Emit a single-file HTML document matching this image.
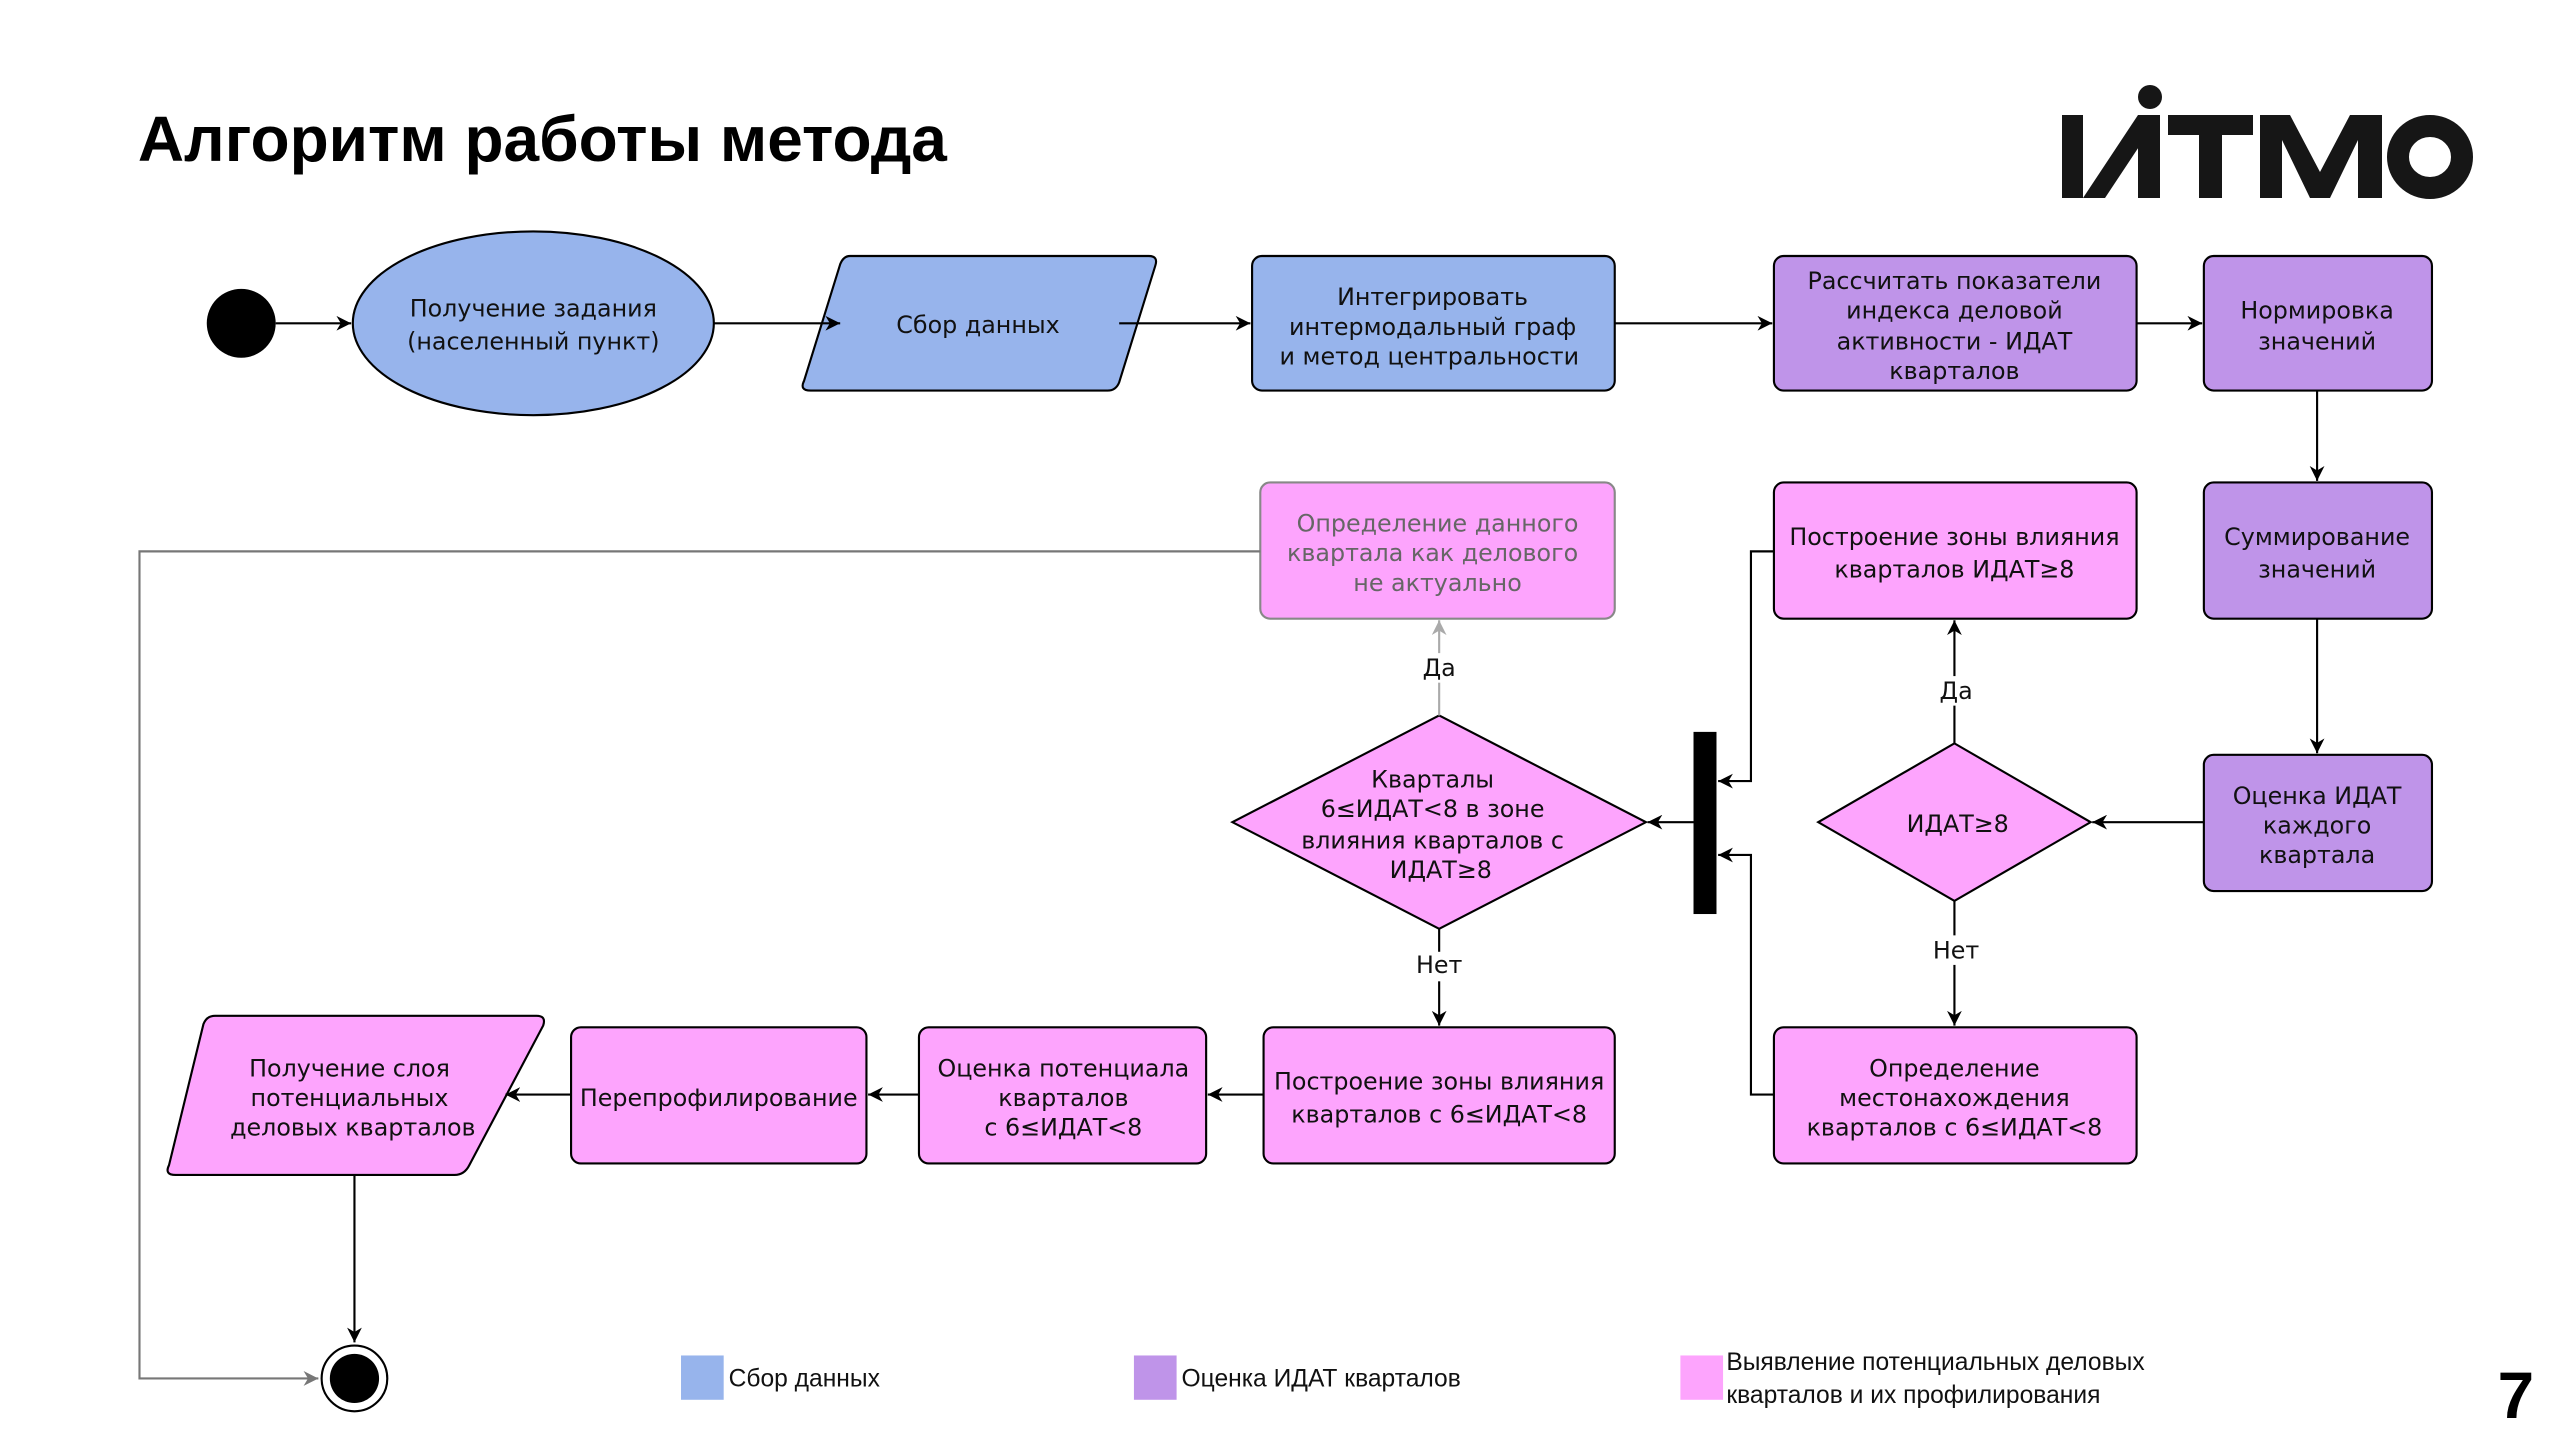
<!DOCTYPE html>
<html><head><meta charset="utf-8"><style>
html,body{margin:0;padding:0;background:#fff;}
svg{display:block;}
.t{font-family:"DejaVu Sans",sans-serif;font-size:14.5px;fill:#111;text-anchor:middle;}
.g{fill:#666;}
.l{font-family:"Liberation Sans",sans-serif;font-size:15px;fill:#111;}
.ln{stroke:#000;stroke-width:1.3;fill:none;}
.bl{fill:#97b4ec;stroke:#000;stroke-width:1.3;}
.pu{fill:#bf94e9;stroke:#000;stroke-width:1.3;}
.pk{fill:#fda4fd;stroke:#000;stroke-width:1.3;}
</style></head><body>
<svg width="2560" height="1440" viewBox="0 0 2560 1440" xmlns="http://www.w3.org/2000/svg">
<defs>
<marker id="a" viewBox="0 0 10 10" refX="10" refY="5" markerWidth="9" markerHeight="9" orient="auto" markerUnits="userSpaceOnUse"><path d="M0,0 L10,5 L0,10 L3,5 z" fill="#000"/></marker>
<marker id="ag" viewBox="0 0 10 10" refX="10" refY="5" markerWidth="9" markerHeight="9" orient="auto" markerUnits="userSpaceOnUse"><path d="M0,0 L10,5 L0,10 L3,5 z" fill="#aaa"/></marker>
<marker id="ag2" viewBox="0 0 10 10" refX="10" refY="5" markerWidth="9" markerHeight="9" orient="auto" markerUnits="userSpaceOnUse"><path d="M0,0 L10,5 L0,10 L3,5 z" fill="#777"/></marker>
</defs>
<!-- logo -->
<g fill="#161616">
<rect x="2062" y="115" width="21" height="83"/>
<polygon points="2083,198 2105,198 2160,115 2138,115"/>
<rect x="2138" y="115" width="22" height="83"/>
<circle cx="2150" cy="97" r="12"/>
<rect x="2168" y="115" width="85" height="20"/>
<rect x="2199" y="115" width="23" height="83"/>
<polygon points="2260,115 2290,115 2320,172 2350,115 2382,115 2382,198 2358,198 2358,140 2330,198 2310,198 2282,140 2282,198 2260,198"/>
<ellipse cx="2430" cy="157" rx="32" ry="31" fill="none" stroke="#161616" stroke-width="22"/>
</g>
<g transform="scale(1.641)">
<text x="84" y="98" font-family="Liberation Sans,sans-serif" font-weight="bold" font-size="39" fill="#000">Алгоритм работы метода</text>
<text x="1522" y="864" font-family="Liberation Sans,sans-serif" font-weight="bold" font-size="40" fill="#000">7</text>

<!-- top row shapes -->
<circle cx="147" cy="197" r="21" fill="#000"/>
<ellipse class="bl" cx="325" cy="197" rx="110" ry="56"/>
<text class="t" x="325" y="193">Получение задания</text>
<text class="t" x="325" y="213">(населенный пункт)</text>
<path class="bl" d="M518,156 L700,156 Q706,156 704,162 L682,233 Q680,238 675,238 L494,238 Q487,238 490,232 L512,161 Q514,156 518,156 Z"/>
<text class="t" x="596" y="203">Сбор данных</text>
<rect class="bl" x="763" y="156" width="221" height="82" rx="6"/>
<text class="t" x="873" y="186">Интегрировать</text>
<text class="t" x="873" y="204">интермодальный граф</text>
<text class="t" x="871" y="222">и метод центральности</text>
<line class="ln" x1="168" y1="197" x2="214" y2="197" marker-end="url(#a)"/>
<line class="ln" x1="435" y1="197" x2="512" y2="197" marker-end="url(#a)"/>
<line class="ln" x1="682" y1="197" x2="762" y2="197" marker-end="url(#a)"/>
<line class="ln" x1="984" y1="197" x2="1080" y2="197" marker-end="url(#a)"/>
<rect class="pu" x="1081" y="156" width="221" height="82" rx="6"/>
<text class="t" x="1191" y="176">Рассчитать показатели</text>
<text class="t" x="1191" y="194">индекса деловой</text>
<text class="t" x="1191" y="213">активности - ИДАТ</text>
<text class="t" x="1191" y="231">кварталов</text>
<line class="ln" x1="1302" y1="197" x2="1342" y2="197" marker-end="url(#a)"/>
<rect class="pu" x="1343" y="156" width="139" height="82" rx="6"/>
<text class="t" x="1412" y="194">Нормировка</text>
<text class="t" x="1412" y="213">значений</text>
<line class="ln" x1="1412" y1="238" x2="1412" y2="293" marker-end="url(#a)"/>
<rect class="pu" x="1343" y="294" width="139" height="83" rx="6"/>
<text class="t" x="1412" y="332">Суммирование</text>
<text class="t" x="1412" y="352">значений</text>
<line class="ln" x1="1412" y1="377" x2="1412" y2="459" marker-end="url(#a)"/>
<rect class="pu" x="1343" y="460" width="139" height="83" rx="6"/>
<text class="t" x="1412" y="490">Оценка ИДАТ</text>
<text class="t" x="1412" y="508">каждого</text>
<text class="t" x="1412" y="526">квартала</text>
<line class="ln" x1="1343" y1="501" x2="1275" y2="501" marker-end="url(#a)"/>

<!-- diamond 1 -->
<polygon class="pk" points="1191,453 1274,501 1191,549 1108,501"/>
<text class="t" x="1193" y="507">ИДАТ≥8</text>
<line class="ln" x1="1191" y1="453" x2="1191" y2="378" marker-end="url(#a)"/>
<rect x="1178" y="412" width="28" height="18" fill="#fff"/>
<text class="t" x="1192" y="426">Да</text>
<line class="ln" x1="1191" y1="549" x2="1191" y2="625" marker-end="url(#a)"/>
<rect x="1175" y="570" width="34" height="18" fill="#fff"/>
<text class="t" x="1192" y="584">Нет</text>
<rect class="pk" x="1081" y="294" width="221" height="83" rx="6"/>
<text class="t" x="1191" y="332">Построение зоны влияния</text>
<text class="t" x="1191" y="352">кварталов ИДАТ≥8</text>
<rect class="pk" x="1081" y="626" width="221" height="83" rx="6"/>
<text class="t" x="1191" y="656">Определение</text>
<text class="t" x="1191" y="674">местонахождения</text>
<text class="t" x="1191" y="692">кварталов с  6≤ИДАТ&lt;8</text>
<polyline class="ln" points="1081,336 1067,336 1067,476 1047,476" marker-end="url(#a)"/>
<polyline class="ln" points="1081,667 1067,667 1067,521 1047,521" marker-end="url(#a)"/>
<rect x="1032" y="446" width="14" height="111" fill="#000"/>
<line class="ln" x1="1032" y1="501" x2="1004" y2="501" marker-end="url(#a)"/>

<!-- diamond 2 -->
<polygon class="pk" points="877,436 1003,501 877,566 751,501"/>
<text class="t" x="873" y="480">Кварталы</text>
<text class="t" x="873" y="498">6≤ИДАТ&lt;8 в зоне</text>
<text class="t" x="873" y="517">влияния кварталов с</text>
<text class="t" x="878" y="535">ИДАТ≥8</text>
<line x1="877" y1="436" x2="877" y2="378" stroke="#aaa" stroke-width="1.3" marker-end="url(#ag)"/>
<rect x="863" y="398" width="28" height="18" fill="#fff"/>
<text class="t" x="877" y="412">Да</text>
<line class="ln" x1="877" y1="566" x2="877" y2="625" marker-end="url(#a)"/>
<rect x="860" y="580" width="34" height="18" fill="#fff"/>
<text class="t" x="877" y="593">Нет</text>
<rect x="768" y="294" width="216" height="83" rx="6" fill="#fda4fd" stroke="#888" stroke-width="1.3"/>
<text class="t g" x="876" y="324">Определение данного</text>
<text class="t g" x="873" y="342">квартала как делового</text>
<text class="t g" x="876" y="360">не актуально</text>
<polyline points="768,336 85,336 85,840 194,840" fill="none" stroke="#777" stroke-width="1.3" marker-end="url(#ag2)"/>

<!-- bottom row -->
<rect class="pk" x="770" y="626" width="214" height="83" rx="6"/>
<text class="t" x="877" y="664">Построение зоны влияния</text>
<text class="t" x="877" y="684">кварталов с 6≤ИДАТ&lt;8</text>
<line class="ln" x1="770" y1="667" x2="736" y2="667" marker-end="url(#a)"/>
<rect class="pk" x="560" y="626" width="175" height="83" rx="6"/>
<text class="t" x="648" y="656">Оценка потенциала</text>
<text class="t" x="648" y="674">кварталов</text>
<text class="t" x="648" y="692">с 6≤ИДАТ&lt;8</text>
<line class="ln" x1="560" y1="667" x2="529" y2="667" marker-end="url(#a)"/>
<rect class="pk" x="348" y="626" width="180" height="83" rx="6"/>
<text class="t" x="438" y="674">Перепрофилирование</text>
<path class="pk" d="M131,619 L327,619 Q333,619 331,625 L286,710 Q283,716 277,716 L107,716 Q100,716 103,710 L124,624 Q126,619 131,619 Z"/>
<text class="t" x="213" y="656">Получение слоя</text>
<text class="t" x="213" y="674">потенциальных</text>
<text class="t" x="215" y="692">деловых кварталов</text>
<line class="ln" x1="348" y1="667" x2="308" y2="667" marker-end="url(#a)"/>
<line class="ln" x1="216" y1="716" x2="216" y2="818" marker-end="url(#a)"/>
<circle cx="216" cy="840" r="20" fill="#fff" stroke="#000" stroke-width="1.3"/>
<circle cx="216" cy="840" r="15" fill="#000"/>

<!-- legend -->
<rect x="415" y="826" width="26" height="27" fill="#97b4ec"/>
<text class="l" x="444" y="845">Сбор данных</text>
<rect x="691" y="826" width="26" height="27" fill="#bf94e9"/>
<text class="l" x="720" y="845">Оценка ИДАТ кварталов</text>
<rect x="1024" y="826" width="26" height="27" fill="#fda4fd"/>
<text class="l" x="1052" y="835">Выявление потенциальных деловых</text>
<text class="l" x="1052" y="855">кварталов и их профилирования</text>
</g>
</svg>
</body></html>
